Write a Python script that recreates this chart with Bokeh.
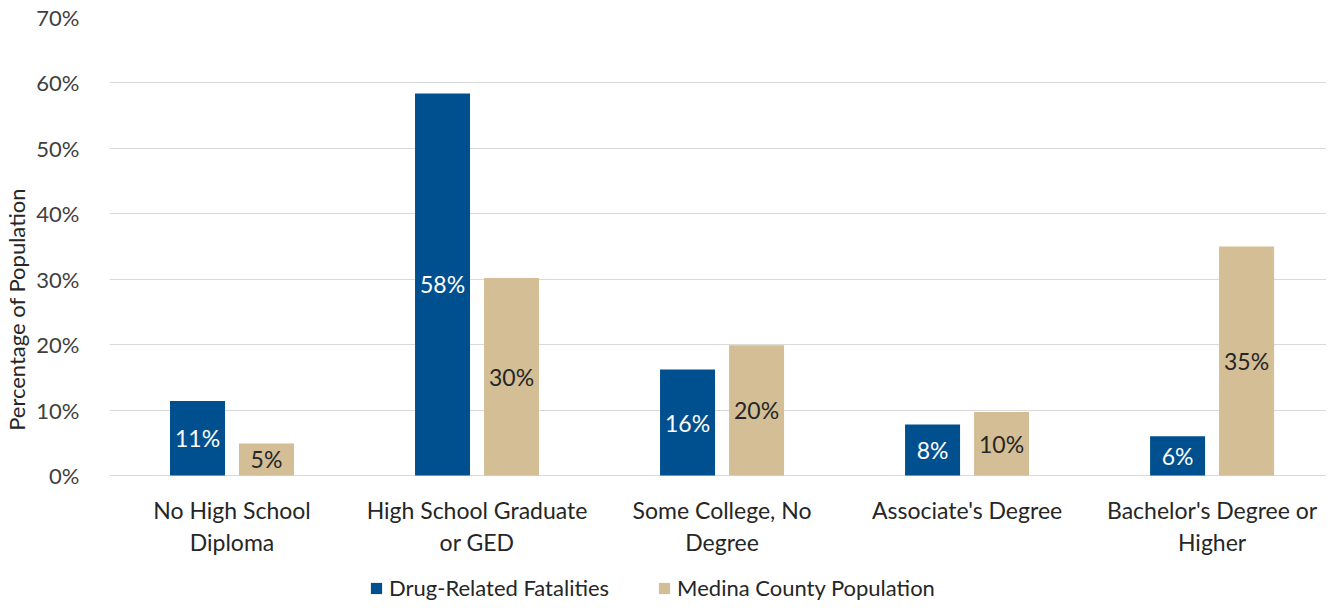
from bokeh.plotting import figure
from bokeh.models import ColumnDataSource, Legend, LegendItem, PrintfTickFormatter, FixedTicker, Range1d
from bokeh.core.properties import value
from bokeh.embed import file_html
from bokeh.resources import INLINE

categories = ["No High School\nDiploma", "High School Graduate\nor GED", "Some College, No\nDegree",
              "Associate's Degree", "Bachelor's Degree or\nHigher"]
fatalities = [11.4, 58.4, 16.2, 7.8, 6.0]
population = [4.9, 30.2, 19.9, 9.7, 35.0]
fatalities_labels = ["11%", "58%", "16%", "8%", "6%"]
population_labels = ["5%", "30%", "20%", "10%", "35%"]
series_names = ["Drug-Related Fatalities", "Medina County Population"]
y_ticks = [0, 10, 20, 30, 40, 50, 60, 70]

BLUE = "#00508F"
TAN = "#D3BE96"
FONT = "Lato"

# layout constants (pixels)
PLOT_H = 458          # height of the 0..70 value area
BELOW_H = 126         # room below zero for category labels and legend
ppu = PLOT_H / 70.0   # pixels per percentage point
y_start = -BELOW_H / ppu

pos = [i + 0.5 for i in range(len(categories))]
off = 0.1408
bw = 0.2245

src_f = ColumnDataSource(dict(x=[p_ - off for p_ in pos], top=fatalities, mid=[v / 2 for v in fatalities], lab=fatalities_labels))
src_p = ColumnDataSource(dict(x=[p_ + off for p_ in pos], top=population, mid=[v / 2 for v in population], lab=population_labels))

line1 = [c.split("\n")[0] for c in categories]
line2 = [c.split("\n")[1] if "\n" in c else "" for c in categories]
src_c = ColumnDataSource(dict(x=pos, l1=line1, l2=line2,
                              y1=[-34 / ppu] * len(pos), y2=[-66 / ppu] * len(pos)))

p = figure(frame_width=1217, frame_height=PLOT_H + BELOW_H, output_backend="svg", toolbar_location=None,
           x_range=Range1d(0, 4.967), y_range=Range1d(y_start, 70), x_axis_location=None,
           min_border_left=102, min_border_right=0, min_border_top=17, min_border_bottom=0)
p.outline_line_color = None
p.background_fill_color = "white"

r1 = p.vbar(x="x", top="top", bottom=0, width=bw, source=src_f, fill_color=BLUE, line_color=None)
r2 = p.vbar(x="x", top="top", bottom=0, width=bw, source=src_p, fill_color=TAN, line_color=None)

p.text(x="x", y="mid", text="lab", source=src_f, text_color="white", text_align="center",
       text_baseline="middle", text_font=value(FONT), text_font_size="23px")
p.text(x="x", y="mid", text="lab", source=src_p, text_color="#262626", text_align="center",
       text_baseline="middle", text_font=value(FONT), text_font_size="23px")

# category labels (two lines each)
p.text(x="x", y="y1", text="l1", source=src_c, text_color="#262626", text_align="center",
       text_baseline="middle", text_font=value(FONT), text_font_size="23px")
p.text(x="x", y="y2", text="l2", source=src_c, text_color="#262626", text_align="center",
       text_baseline="middle", text_font=value(FONT), text_font_size="23px")

# y axis
p.yaxis.ticker = FixedTicker(ticks=y_ticks)
p.yaxis.bounds = (0, 70)
p.yaxis.formatter = PrintfTickFormatter(format="%d%%")
p.yaxis.axis_line_color = None
p.yaxis.major_tick_line_color = None
p.yaxis.minor_tick_line_color = None
p.yaxis.major_label_standoff = 24
p.yaxis.major_label_text_font = FONT
p.yaxis.major_label_text_font_size = "22px"
p.yaxis.major_label_text_color = "#404040"
p.yaxis.axis_label = "Percentage of Population"
p.yaxis.axis_label_text_font = FONT
p.yaxis.axis_label_text_font_size = "22px"
p.yaxis.axis_label_text_font_style = "normal"
p.yaxis.axis_label_text_color = "#262626"
p.yaxis.axis_label_standoff = 3

p.xgrid.grid_line_color = None
p.ygrid.grid_line_color = "#D9D9D9"
p.ygrid.grid_line_width = 1

legend = Legend(items=[LegendItem(label=series_names[0], renderers=[r1]),
                       LegendItem(label=series_names[1], renderers=[r2])],
                orientation="horizontal", location=(260, 0))
legend.label_text_font = FONT
legend.label_text_font_size = "22px"
legend.label_text_color = "#262626"
legend.glyph_width = 14
legend.glyph_height = 14
legend.label_height = 20
legend.spacing = 48
legend.border_line_color = None
legend.background_fill_alpha = 0
legend.padding = 0
legend.margin = 0
legend.label_standoff = 6
p.add_layout(legend, "center")

open("out.html", "w").write(file_html(p, INLINE))
